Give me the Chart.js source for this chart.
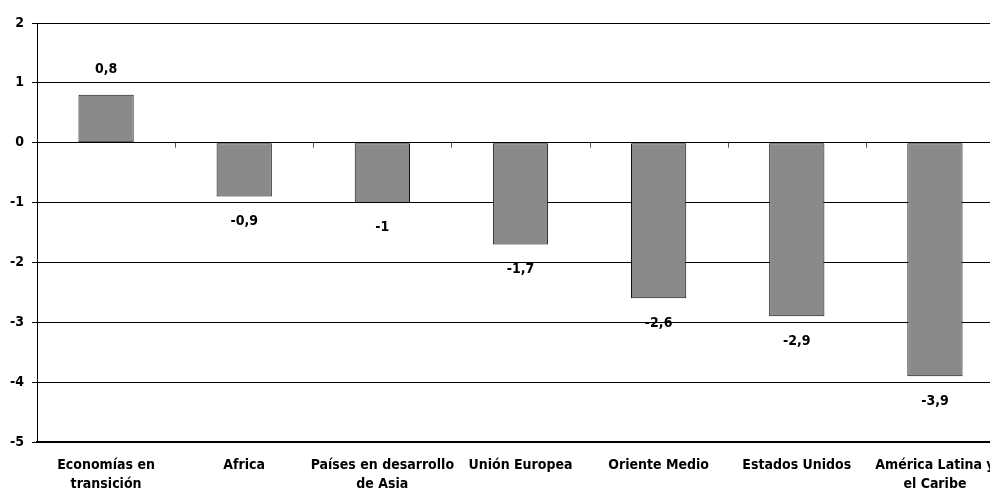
<!DOCTYPE html>
<html>
<head>
<meta charset="utf-8">
<script src="https://cdn.jsdelivr.net/npm/chart.js@4.4.1/dist/chart.umd.min.js"></script>
<style>
  html, body { margin: 0; padding: 0; background: #fff; overflow: hidden; }
  #wrap { width: 1004px; height: 498px; position: relative; }
</style>
</head>
<body>
<div id="wrap"><canvas id="c" width="1004" height="498"></canvas></div>
<script>
const categories = [
  ["Economías en", "transición"],
  "Africa",
  ["Países en desarrollo", "de Asia"],
  "Unión Europea",
  "Oriente Medio",
  "Estados Unidos",
  ["América Latina y", "el Caribe"]
];
const values = [0.8, -0.9, -1, -1.7, -2.6, -2.9, -3.9];
const yMin = -5;
const yMax = 2;

const FONT = "'Liberation Sans Narrow', 'Arial Narrow', 'DejaVu Sans Condensed', sans-serif";

const labelPlugin = {
  id: 'valueLabels',
  afterDatasetsDraw(chart) {
    const ctx = chart.ctx;
    const meta = chart.getDatasetMeta(0);
    ctx.save();
    ctx.font = "bold 14px " + FONT;
    ctx.fillStyle = '#000';
    ctx.textAlign = 'center';
    ctx.textBaseline = 'middle';
    meta.data.forEach((bar, i) => {
      const v = values[i];
      const txt = String(v).replace('.', ',');
      const y = v >= 0 ? bar.y - 25 : bar.y + 25;
      ctx.fillText(txt, bar.x, y);
    });
    ctx.restore();
  }
};

const zeroTicksPlugin = {
  id: 'zeroTicks',
  afterDatasetsDraw(chart) {
    const ctx = chart.ctx;
    const xs = chart.scales.x;
    const ys = chart.scales.y;
    const y0 = ys.getPixelForValue(0);
    ctx.save();
    ctx.strokeStyle = '#555';
    ctx.lineWidth = 1;
    for (let i = 1; i < categories.length; i++) {
      const xb = Math.round((xs.getPixelForValue(i - 1) + xs.getPixelForValue(i)) / 2) + 0.5;
      ctx.beginPath();
      ctx.moveTo(xb, y0);
      ctx.lineTo(xb, y0 + 5);
      ctx.stroke();
    }
    ctx.restore();
  }
};

new Chart(document.getElementById('c'), {
  type: 'bar',
  data: {
    labels: categories,
    datasets: [{
      data: values,
      backgroundColor: '#8a8a8a',
      borderColor: '#111',
      borderWidth: 1,
      borderSkipped: false,
      barPercentage: 0.4,
      categoryPercentage: 1.0
    }]
  },
  options: {
    responsive: false,
    animation: false,
    devicePixelRatio: 1,
    layout: { padding: { top: 23, left: 0, right: 0, bottom: 0 } },
    plugins: { legend: { display: false }, tooltip: { enabled: false } },
    scales: {
      x: {
        grid: { display: true, color: 'rgba(0,0,0,0)', drawTicks: false },
        border: { display: true, color: '#000', width: 2 },
        ticks: {
          color: '#000',
          font: { family: FONT, size: 14, weight: 'bold', lineHeight: 1.35 },
          padding: 14,
          maxRotation: 0,
          autoSkip: false
        },
        afterFit(scale) {
          scale.height = 56;
          scale.paddingLeft = 0;
          scale.paddingRight = 0;
        }
      },
      y: {
        min: yMin,
        max: yMax,
        ticks: {
          stepSize: 1,
          color: '#000',
          font: { family: FONT, size: 14, weight: 'bold' },
          padding: 8
        },
        grid: { color: '#000', lineWidth: 1, tickLength: 5, drawTicks: true },
        border: { display: true, color: '#000', width: 1 },
        afterFit(scale) { scale.width = 37; }
      }
    }
  },
  plugins: [labelPlugin, zeroTicksPlugin]
});
</script>
</body>
</html>
